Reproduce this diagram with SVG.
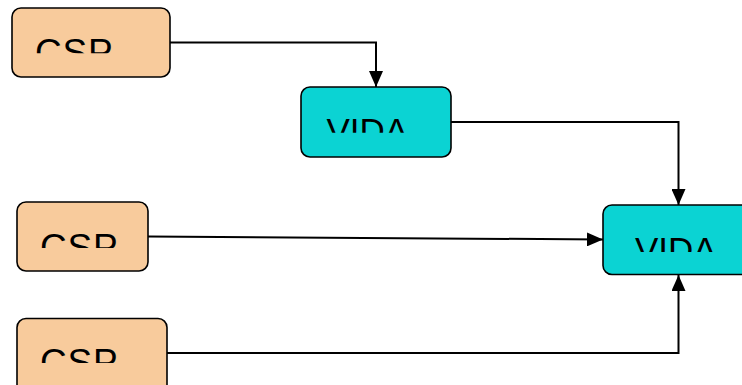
<svg xmlns="http://www.w3.org/2000/svg" width="742" height="385" viewBox="0 0 742 385">
<style>
.csp{fill:#F8CB9C;stroke:#000;stroke-width:1.6}
.vida{fill:#0BD3D3;stroke:#000;stroke-width:1.6}
.lbl{font-family:"Liberation Sans",Arial,sans-serif;font-size:36px;fill:#000}
.lc{font-size:37px;letter-spacing:0.8px}
.lv{font-size:35px}
.con{fill:none;stroke:#000;stroke-width:2}
</style>
<defs>
<marker id="arr" markerUnits="userSpaceOnUse" markerWidth="16" markerHeight="14" refX="16" refY="7" orient="auto">
<path d="M0,0 L16,7 L0,14 Z" fill="#000"/>
</marker>
<clipPath id="c1" clipPathUnits="userSpaceOnUse"><rect x="0" y="0" width="742" height="53.3"/></clipPath>
<clipPath id="c2" clipPathUnits="userSpaceOnUse"><rect x="0" y="0" width="742" height="132.7"/></clipPath>
<clipPath id="c3" clipPathUnits="userSpaceOnUse"><rect x="0" y="0" width="742" height="252"/></clipPath>
<clipPath id="c4" clipPathUnits="userSpaceOnUse"><rect x="0" y="0" width="742" height="248"/></clipPath>
<clipPath id="c5" clipPathUnits="userSpaceOnUse"><rect x="0" y="0" width="742" height="363"/></clipPath>
</defs>
<g id="connectors">
<path class="con" d="M170,42.5 H376 V87" marker-end="url(#arr)"/>
<path class="con" d="M451,122 H678.5 V205" marker-end="url(#arr)"/>
<path class="con" d="M148,236.5 L603,239.5" marker-end="url(#arr)"/>
<path class="con" d="M167,353 H678.5 V275" marker-end="url(#arr)"/>
</g>
<g id="csp1">
<rect class="csp" x="12" y="8" width="158" height="69" rx="9"/>
<text class="lbl lc" x="35" y="65" clip-path="url(#c1)">CSP</text>
</g>
<g id="vida1">
<rect class="vida" x="301" y="87" width="150" height="70" rx="9"/>
<text class="lbl lv" x="326.5" y="143" clip-path="url(#c2)">VIDA</text>
</g>
<g id="vida2">
<rect class="vida" x="603" y="205" width="160" height="69.5" rx="9"/>
<text class="lbl lv" x="635" y="261.5" clip-path="url(#c3)">VIDA</text>
</g>
<g id="csp2">
<rect class="csp" x="17" y="202" width="131" height="69" rx="9"/>
<text class="lbl lc" x="40" y="260" clip-path="url(#c4)">CSP</text>
</g>
<g id="csp3">
<rect class="csp" x="17" y="318.5" width="150" height="75" rx="9"/>
<text class="lbl lc" x="40" y="375" clip-path="url(#c5)">CSP</text>
</g>
</svg>
